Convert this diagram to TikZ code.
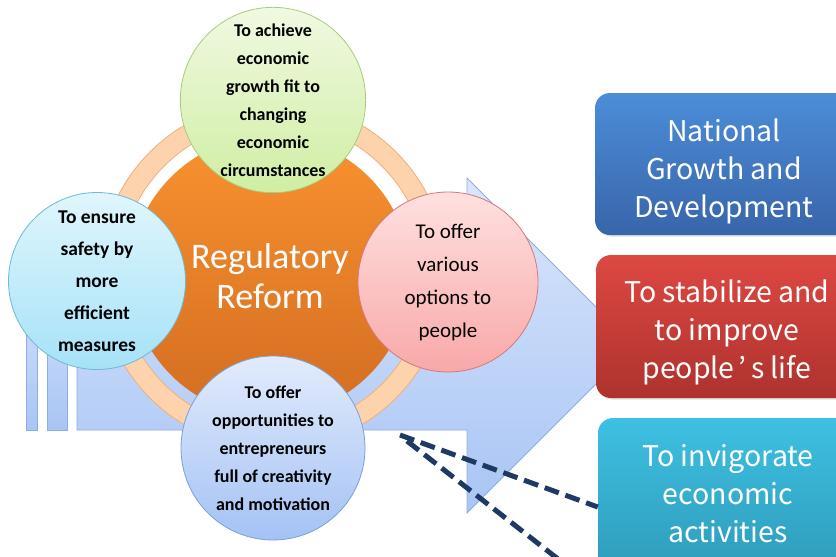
\documentclass[tikz,border=0pt]{standalone}
\usepackage{fontspec}
\setmainfont{Carlito}
\newfontfamily\jpfont{Noto Sans CJK JP}
\usetikzlibrary{shadows}

\definecolor{arrowtop}{HTML}{DAE6FC}
\definecolor{arrowbot}{HTML}{A9C5F4}
\definecolor{arrowline}{HTML}{8FAEE0}
\definecolor{ringfill}{HTML}{FCD3AC}
\definecolor{ringline}{HTML}{F2AE78}
\definecolor{orangetop}{HTML}{F8922F}
\definecolor{orangebot}{HTML}{D36D22}
\definecolor{greentop}{HTML}{F0F9E2}
\definecolor{greenbot}{HTML}{D0EEA3}
\definecolor{greenline}{HTML}{A8CC7C}
\definecolor{cyantop}{HTML}{E0F6FD}
\definecolor{cyanbot}{HTML}{A5E2F7}
\definecolor{cyanline}{HTML}{70B8D2}
\definecolor{pinktop}{HTML}{FFE0E0}
\definecolor{pinkbot}{HTML}{F9A8A8}
\definecolor{pinkline}{HTML}{D2797A}
\definecolor{bluetop}{HTML}{E2EBFC}
\definecolor{bluebot}{HTML}{A4C2F4}
\definecolor{blueline}{HTML}{7C9FD5}
\definecolor{nattop}{HTML}{4C8DD8}
\definecolor{natbot}{HTML}{3865AA}
\definecolor{lifetop}{HTML}{DE4842}
\definecolor{lifebot}{HTML}{AE322E}
\definecolor{acttop}{HTML}{3EC0E2}
\definecolor{actbot}{HTML}{2C96B4}
\definecolor{dashblue}{HTML}{1F3864}

\begin{document}
\begin{tikzpicture}[x=1pt, y=-1pt,
  aimcircle/.style={circle, draw=#1, line width=0.8pt, minimum size=184pt, inner sep=0pt, align=center},
  goalbox/.style={rectangle, rounded corners=15pt, minimum width=262pt, inner sep=0pt,
    drop shadow={opacity=0.25, shadow xshift=1.5pt, shadow yshift=-1.5pt}},
  goaltext/.style={align=center, inner sep=0pt, text=white, font=\jpfont\fontsize{28.5}{38}\selectfont}]
\useasboundingbox (0,0) rectangle (836,557);
\clip (0,0) rectangle (836,557);
% большая стрелка на заднем плане
\shadedraw[top color=arrowtop, bottom color=arrowbot, draw=arrowline, line width=0.8pt]
  (26,261) rectangle (37,430); % левая полоска
\shadedraw[top color=arrowtop, bottom color=arrowbot, draw=arrowline, line width=0.8pt]
  (47,261) rectangle (67,430);
\shadedraw[top color=arrowtop, bottom color=arrowbot, draw=arrowline, line width=0.8pt]
  (77,261) -- (467,261) -- (467,178) -- (634.5,345.5) -- (467,513) -- (467,430) -- (77,430) -- cycle;
% кольцо вокруг центра
\fill[ringfill, even odd rule] (273,275) circle[radius=174pt] circle[radius=154pt];
\draw[ringline, line width=0.8pt] (273,275) circle[radius=174pt] circle[radius=154pt];
% центральный круг
\node[circle, minimum size=280pt, inner sep=0pt, top color=orangetop, bottom color=orangebot,
  text=white, align=center, font=\fontsize{36}{40}\selectfont] (reform) at (270,276) {Regulatory\\Reform};
% четыре цели
\node[aimcircle=greenline, top color=greentop, bottom color=greenbot,
  font=\bfseries\fontsize{18}{28}\selectfont] (growth) at (273,100)
  {To achieve\\economic\\growth fit to\\changing\\economic\\circumstances};
\node[aimcircle=cyanline, minimum size=177pt, top color=cyantop, bottom color=cyanbot,
  font=\bfseries\fontsize{19.5}{32}\selectfont] (safety) at (97,281)
  {To ensure\\safety by\\more\\efficient\\measures};
\node[aimcircle=pinkline, minimum size=180pt, top color=pinktop, bottom color=pinkbot,
  font=\fontsize{21}{33}\selectfont] (options) at (448,282)
  {To offer\\various\\options to\\people};
\node[aimcircle=blueline, top color=bluetop, bottom color=bluebot,
  font=\bfseries\fontsize{18}{28}\selectfont] (entre) at (273,448)
  {To offer\\opportunities to\\entrepreneurs\\full of creativity\\and motivation};
% три итоговых блока справа
\node[goalbox, minimum height=142pt, top color=nattop, bottom color=natbot] (national) at (726,164) {};
\node[goalbox, minimum height=143pt, top color=lifetop, bottom color=lifebot] (life) at (727,326.5) {};
\node[goalbox, minimum height=178pt, top color=acttop, bottom color=actbot] (activity) at (729,507) {};
\node[goaltext] (nationaltext) at (724,171) {National\\Growth and\\Development};
\node[goaltext] (lifetext) at (727,332) {To stabilize and\\to improve\\people\kern0.15em’\kern0.15em s life};
\node[goaltext] (activitytext) at (728,494) {To invigorate\\economic\\activities};
% пунктирные линии
\coordinate (dashA) at (400,435);
\coordinate (dashB) at (407,441);
\coordinate (offpage) at (590,584);
\draw[dashblue, line width=5pt, dash pattern=on 15pt off 7pt] (dashA) -- (activity.west);
\draw[dashblue, line width=5pt, dash pattern=on 15pt off 7pt] (dashB) -- (offpage);
\end{tikzpicture}
\end{document}
